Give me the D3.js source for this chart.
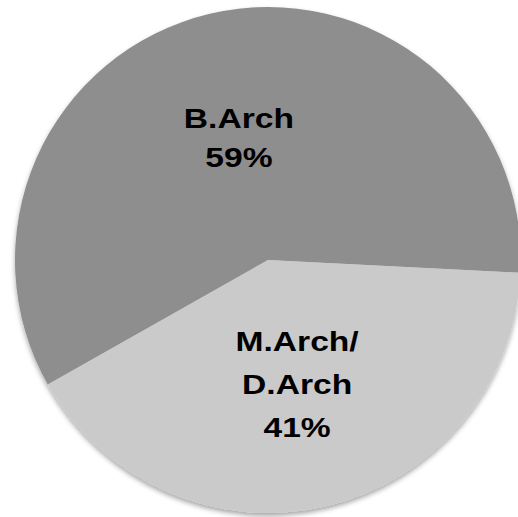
<!DOCTYPE html>
<html>
<head>
<meta charset="utf-8">
<script src="https://cdn.jsdelivr.net/npm/d3@7"></script>
<style>
  body { margin: 0; background: #fff; }
  svg { display: block; }
</style>
</head>
<body>
<div id="chart"></div>
<script>
var categories = ["B.Arch", "M.Arch/D.Arch"];
var labelLines = [["B.Arch", "59%"], ["M.Arch/", "D.Arch", "41%"]];
var values = [59, 41];
var colors = ["#8e8e8e", "#cacaca"];

var width = 518, height = 517;
var cx = 268, cy = 260, radius = 253;
var startDeg = 240.5;
var lineHeights = [39, 43];

var svg = d3.select("#chart")
    .append("svg")
    .attr("width", width)
    .attr("height", height);

var defs = svg.append("defs");
var filter = defs.append("filter")
    .attr("id", "shadow")
    .attr("x", "-10%").attr("y", "-10%")
    .attr("width", "120%").attr("height", "120%");
filter.append("feDropShadow")
    .attr("dx", 0)
    .attr("dy", 3)
    .attr("stdDeviation", 2.5)
    .attr("flood-color", "#000")
    .attr("flood-opacity", 0.35);

var pie = d3.pie()
    .sort(null)
    .startAngle(startDeg * Math.PI / 180)
    .endAngle(startDeg * Math.PI / 180 + 2 * Math.PI)
    .value((d) => d);

var arc = d3.arc()
    .innerRadius(0)
    .outerRadius(radius);

var g = svg.append("g")
    .attr("transform", "translate(" + cx + "," + cy + ")");

var arcs = pie(values);

g.append("g")
    .attr("filter", "url(#shadow)")
  .selectAll("path")
    .data(arcs)
    .enter()
    .append("path")
    .attr("d", arc)
    .attr("fill", (d, i) => colors[i]);

// labels sit on the slice centroid, lines stacked around it
arcs.forEach((d, i) => {
    var c = arc.centroid(d);
    var lines = labelLines[i];
    var lineH = lineHeights[i];
    var top = c[1] - (lines.length - 1) * lineH / 2 + 11;
    var t = g.append("text")
        .attr("transform", "translate(" + c[0] + "," + top + ") scale(1.2,1)")
        .attr("text-anchor", "middle")
        .attr("font-family", "'Liberation Sans', Arial, Helvetica, sans-serif")
        .attr("font-weight", "bold")
        .attr("font-size", "28px")
        .attr("fill", "#000");
    lines.forEach((s, j) => {
        t.append("tspan")
            .attr("x", 0)
            .attr("y", j * lineH)
            .text(s);
    });
});
</script>
</body>
</html>
